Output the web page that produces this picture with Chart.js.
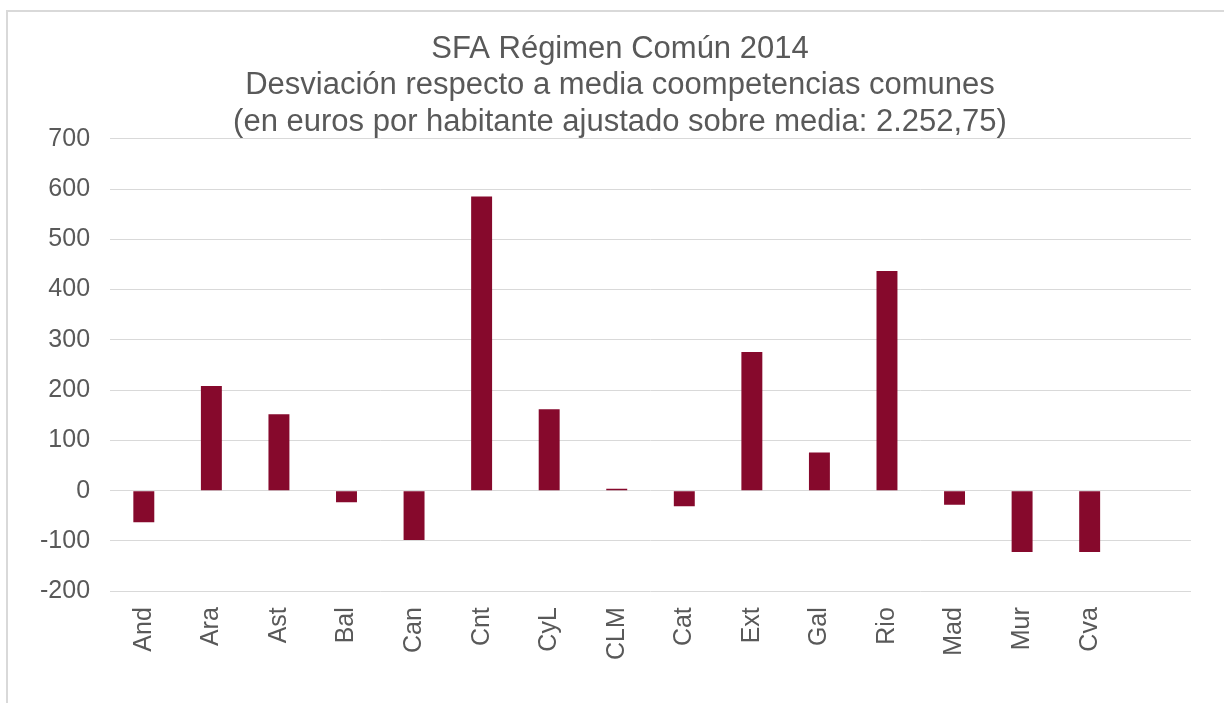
<!DOCTYPE html>
<html>
<head>
<meta charset="utf-8">
<script src="https://cdn.jsdelivr.net/npm/chart.js@4"></script>
<style>
  html, body { margin: 0; padding: 0; background: #fff; overflow: hidden; }
  #frame {
    position: absolute; left: 6px; top: 10px;
    width: 1228px; height: 700px;
    border: 2px solid #d9d9d9;
  }
</style>
</head>
<body>
<div id="frame"><canvas id="sfaChart" width="1228" height="700"></canvas></div>
<script>
// regiones (the last slot is empty in the original chart)
const regiones = ['And', 'Ara', 'Ast', 'Bal', 'Can', 'Cnt', 'CyL', 'CLM', 'Cat', 'Ext', 'Gal', 'Rio', 'Mad', 'Mur', 'Cva', ''];
const desviacion = [-63, 208, 152, -23, -98, 585, 162, 4, -31, 276, 76, 437, -28, -122, -122, null];
const yTicks = [-200, -100, 0, 100, 200, 300, 400, 500, 600, 700];
const titulo = [
  'SFA Régimen Común 2014',
  'Desviación respecto a media coompetencias comunes',
  '(en euros por habitante ajustado sobre media: 2.252,75)'
];

const grey = '#595959';
const fontName = '"Liberation Sans", Arial, sans-serif';

// center the title on the whole frame, not between the layout paddings
const centerTitle = {
  id: 'centerTitle',
  afterLayout(chart) {
    if (chart.titleBlock) {
      chart.titleBlock.left = 0;
      chart.titleBlock.right = 1224;
    }
  }
};

const ctx = document.getElementById('sfaChart');
new Chart(ctx, {
  type: 'bar',
  data: {
    labels: regiones,
    datasets: [{
      data: desviacion,
      backgroundColor: '#86092c',
      borderWidth: 0,
      categoryPercentage: 1,
      barPercentage: 0.31
    }]
  },
  options: {
    responsive: false,
    animation: false,
    layout: { padding: { left: 12, right: 45, top: 0, bottom: 44 } },
    plugins: {
      legend: { display: false },
      tooltip: { enabled: false },
      title: {
        display: true,
        text: titulo,
        color: grey,
        font: { family: fontName, size: 31, weight: 'normal', lineHeight: 1.18 },
        padding: { top: 19, bottom: -2 }
      }
    },
    scales: {
      x: {
        grid: { display: false },
        border: { display: false },
        ticks: {
          color: grey,
          font: { family: fontName, size: 25 },
          minRotation: 90,
          maxRotation: 90,
          autoSkip: false,
          padding: 8
        }
      },
      y: {
        min: -200,
        max: 700,
        afterBuildTicks: (axis) => { axis.ticks = yTicks.map(v => ({ value: v })); },
        grid: { color: '#d9d9d9', lineWidth: 1, drawTicks: false },
        border: { display: false },
        ticks: {
          color: grey,
          font: { family: fontName, size: 25 },
          padding: 20
        }
      }
    }
  },
  plugins: [centerTitle]
});
</script>
</body>
</html>
